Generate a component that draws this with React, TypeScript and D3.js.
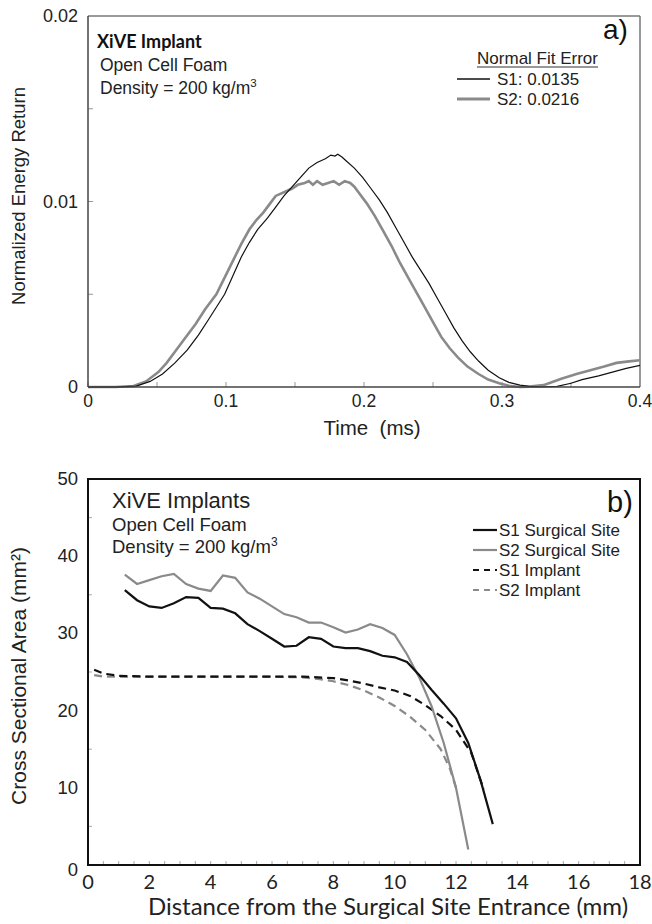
import * as d3 from "d3";
import React, { useRef, useEffect } from "react";

// panel a) normalized energy return vs time
const timeS1 = [0, 0.02, 0.035, 0.045, 0.054, 0.063, 0.072, 0.08, 0.087, 0.093, 0.099, 0.105, 0.111, 0.117, 0.123, 0.13, 0.136, 0.142, 0.148, 0.154, 0.16, 0.166, 0.172, 0.176, 0.179, 0.181, 0.184, 0.187, 0.193, 0.199, 0.205, 0.211, 0.217, 0.223, 0.229, 0.235, 0.241, 0.247, 0.253, 0.259, 0.265, 0.271, 0.277, 0.283, 0.29, 0.298, 0.305, 0.313, 0.32, 0.328, 0.34, 0.35, 0.358, 0.37, 0.38, 0.39, 0.4];
const energyS1 = [0, 0, 0.00005, 0.0003, 0.0007, 0.0013, 0.002, 0.0028, 0.0036, 0.0043, 0.005, 0.006, 0.007, 0.0078, 0.0085, 0.0091, 0.0097, 0.0103, 0.0108, 0.0113, 0.0118, 0.0121, 0.0123, 0.0125, 0.01245, 0.01255, 0.0124, 0.0122, 0.0118, 0.0113, 0.0107, 0.0101, 0.0094, 0.0086, 0.0078, 0.007, 0.0063, 0.0056, 0.0048, 0.004, 0.0032, 0.0025, 0.0019, 0.0014, 0.0009, 0.0005, 0.00025, 0.0001, 0.00003, 0, 0.00003, 0.0002, 0.0004, 0.0006, 0.0008, 0.001, 0.00117];

const timeS2 = [0, 0.02, 0.033, 0.042, 0.051, 0.057, 0.063, 0.07, 0.078, 0.085, 0.093, 0.099, 0.105, 0.111, 0.117, 0.122, 0.127, 0.132, 0.136, 0.142, 0.148, 0.152, 0.157, 0.16, 0.163, 0.166, 0.17, 0.174, 0.178, 0.182, 0.186, 0.19, 0.193, 0.196, 0.202, 0.208, 0.214, 0.22, 0.226, 0.232, 0.238, 0.244, 0.25, 0.256, 0.262, 0.268, 0.275, 0.283, 0.29, 0.298, 0.305, 0.313, 0.32, 0.33, 0.343, 0.354, 0.364, 0.374, 0.383, 0.392, 0.4];
const energyS2 = [0, 0, 0.00005, 0.0003, 0.0008, 0.0013, 0.0019, 0.0026, 0.0034, 0.0042, 0.005, 0.0059, 0.0068, 0.0077, 0.0085, 0.009, 0.0094, 0.0099, 0.0103, 0.0105, 0.0107, 0.0109, 0.011, 0.0111, 0.0109, 0.0111, 0.0109, 0.011, 0.0111, 0.0109, 0.0111, 0.011, 0.0108, 0.0105, 0.0099, 0.0092, 0.0084, 0.0076, 0.0067, 0.0059, 0.0051, 0.0043, 0.0035, 0.0027, 0.0021, 0.0016, 0.0011, 0.0007, 0.0004, 0.0002, 0.00007, 0, 0.00002, 0.0001, 0.00045, 0.0007, 0.0009, 0.0011, 0.0013, 0.00138, 0.00144];

// panel b) cross sectional area vs distance
const siteDist = [1.2, 1.6, 2.0, 2.4, 2.8, 3.2, 3.6, 4.0, 4.4, 4.8, 5.2, 5.6, 6.0, 6.4, 6.8, 7.2, 7.6, 8.0, 8.4, 8.8, 9.2, 9.6, 10.0, 10.4, 10.8, 11.2, 11.6, 12.0, 12.4, 12.8, 13.2];
const siteS1 = [35.6, 34.3, 33.5, 33.3, 33.9, 34.7, 34.6, 33.3, 33.2, 32.6, 31.2, 30.3, 29.3, 28.3, 28.4, 29.5, 29.3, 28.3, 28.1, 28.1, 27.7, 27.1, 26.9, 26.3, 24.6, 22.7, 20.9, 19.0, 15.8, 11.0, 5.3];
const siteDistS2 = [1.2, 1.6, 2.0, 2.4, 2.8, 3.2, 3.6, 4.0, 4.4, 4.8, 5.2, 5.6, 6.0, 6.4, 6.8, 7.2, 7.6, 8.0, 8.4, 8.8, 9.2, 9.6, 10.0, 10.4, 10.8, 11.2, 11.6, 12.0, 12.4];
const siteS2 = [37.6, 36.4, 36.9, 37.4, 37.7, 36.4, 35.8, 35.5, 37.5, 37.2, 35.3, 34.5, 33.5, 32.5, 32.1, 31.4, 31.4, 30.8, 30.1, 30.5, 31.2, 30.7, 29.8, 27.3, 24.3, 20.6, 15.8, 10.0, 2.0];
const implantDist = [0.2, 0.5, 1.0, 2.0, 3.0, 4.0, 5.0, 6.0, 7.0, 7.5, 8.0, 8.5, 9.0, 9.5, 10.0, 10.5, 11.0, 11.5, 12.0, 12.5, 12.9];
const implantS1 = [25.3, 24.8, 24.5, 24.4, 24.4, 24.4, 24.4, 24.4, 24.4, 24.3, 24.2, 23.9, 23.5, 23.0, 22.6, 21.9, 20.7, 19.3, 17.5, 14.5, 9.8];
const implantDistS2 = [0.2, 0.5, 1.0, 2.0, 3.0, 4.0, 5.0, 6.0, 7.0, 7.5, 8.0, 8.5, 9.0, 9.5, 10.0, 10.5, 11.0, 11.5, 11.8, 12.0];
const implantS2 = [24.6, 24.4, 24.4, 24.4, 24.4, 24.4, 24.4, 24.4, 24.3, 24.1, 23.8, 23.3, 22.6, 21.7, 20.6, 19.2, 17.5, 15.0, 12.5, 10.0];

const timeTicks = [0, 0.1, 0.2, 0.3, 0.4];
const energyTicks = [0, 0.01, 0.02];
const distTicks = [0, 2, 4, 6, 8, 10, 12, 14, 16, 18];
const areaTicks = [0, 10, 20, 30, 40, 50];

const ARIAL = "'Liberation Sans', Arial, sans-serif";
const CAL = "Lato, 'Open Sans', sans-serif";
const GRAY = "#8a8a8a";

const App = () => {
  const ref = useRef<SVGSVGElement>(null);

  useEffect(() => {
    if (!ref.current) return;
    const svg = d3.select(ref.current);
    svg.selectAll("*").remove();

    // ---------- panel a ----------
    const xa = d3.scaleLinear().domain([0, 0.4]).range([88, 640]);
    const ya = d3.scaleLinear().domain([0, 0.02]).range([387, 16]);
    const ga = svg.append("g");

    // box
    ga.append("line").attr("x1", 88).attr("x2", 640).attr("y1", 16).attr("y2", 16).attr("stroke", "#777").attr("stroke-width", 1.5);
    ga.append("line").attr("x1", 640).attr("x2", 640).attr("y1", 16).attr("y2", 387).attr("stroke", "#777").attr("stroke-width", 1.5);

    // inner ticks
    d3.range(0, 0.4001, 0.05).forEach((t) => {
      ga.append("line").attr("x1", xa(t)).attr("x2", xa(t)).attr("y1", 387).attr("y2", 382).attr("stroke", "#999").attr("stroke-width", 1);
    });
    d3.range(0, 0.02001, 0.005).forEach((t) => {
      ga.append("line").attr("x1", 88).attr("x2", 93).attr("y1", ya(t)).attr("y2", ya(t)).attr("stroke", "#999").attr("stroke-width", 1);
    });

    const lineA = d3.line<[number, number]>().x((d) => xa(d[0])).y((d) => ya(d[1]));
    ga.append("path")
      .datum(timeS2.map((t, i) => [t, energyS2[i]] as [number, number]))
      .attr("fill", "none").attr("stroke", GRAY).attr("stroke-width", 2.6).attr("d", lineA);
    ga.append("path")
      .datum(timeS1.map((t, i) => [t, energyS1[i]] as [number, number]))
      .attr("fill", "none").attr("stroke", "#111").attr("stroke-width", 1.2).attr("d", lineA);

    ga.append("line").attr("x1", 88).attr("x2", 88).attr("y1", 16).attr("y2", 387).attr("stroke", "#444").attr("stroke-width", 1.5);
    ga.append("line").attr("x1", 88).attr("x2", 640).attr("y1", 387).attr("y2", 387).attr("stroke", "#444").attr("stroke-width", 1.5);

    ga.selectAll(".xt").data(timeTicks).enter().append("text")
      .attr("x", (d) => xa(d)).attr("y", 407).attr("text-anchor", "middle")
      .style("font-family", ARIAL).style("font-size", "17.5px").attr("fill", "#222")
      .text((d) => String(d));
    ga.selectAll(".yt").data(energyTicks).enter().append("text")
      .attr("x", 78).attr("y", (d) => ya(d) + 6).attr("text-anchor", "end")
      .style("font-family", ARIAL).style("font-size", "18px").attr("fill", "#222")
      .text((d) => String(d));

    ga.append("text").attr("x", 372).attr("y", 435).attr("text-anchor", "middle")
      .style("font-family", ARIAL).style("font-size", "20.5px").attr("fill", "#222")
      .style("white-space", "pre").text("Time  (ms)");
    ga.append("text").attr("transform", "translate(25,196) rotate(-90)").attr("text-anchor", "middle")
      .style("font-family", ARIAL).style("font-size", "18.5px").attr("fill", "#222")
      .text("Normalized Energy Return");

    ga.append("text").attr("x", 97).attr("y", 48)
      .style("font-family", CAL).style("font-size", "18px").style("font-weight", "bold").attr("fill", "#111")
      .text("XiVE Implant");
    ga.append("text").attr("x", 100).attr("y", 71)
      .style("font-family", ARIAL).style("font-size", "17.5px").attr("fill", "#222")
      .text("Open Cell Foam");
    const dens = ga.append("text").attr("x", 100).attr("y", 94)
      .style("font-family", ARIAL).style("font-size", "17.5px").attr("fill", "#222");
    dens.append("tspan").text("Density = 200 kg/m");
    dens.append("tspan").attr("dy", -7).style("font-size", "11.5px").text("3");

    ga.append("text").attr("x", 603).attr("y", 39)
      .style("font-family", ARIAL).style("font-size", "28px").attr("fill", "#111").text("a)");

    ga.append("text").attr("x", 598).attr("y", 64).attr("text-anchor", "end")
      .style("font-family", ARIAL).style("font-size", "17px").attr("fill", "#222").text("Normal Fit Error");
    ga.append("line").attr("x1", 477).attr("x2", 598).attr("y1", 67).attr("y2", 67).attr("stroke", "#333").attr("stroke-width", 1);
    ga.append("line").attr("x1", 457).attr("x2", 490).attr("y1", 79).attr("y2", 79).attr("stroke", "#111").attr("stroke-width", 1.5);
    ga.append("line").attr("x1", 457).attr("x2", 490).attr("y1", 99).attr("y2", 99).attr("stroke", GRAY).attr("stroke-width", 3);
    ga.append("text").attr("x", 497).attr("y", 85)
      .style("font-family", ARIAL).style("font-size", "17px").attr("fill", "#222").text("S1: 0.0135");
    ga.append("text").attr("x", 497).attr("y", 105)
      .style("font-family", ARIAL).style("font-size", "17px").attr("fill", "#222").text("S2: 0.0216");

    // ---------- panel b ----------
    const xb = d3.scaleLinear().domain([0, 18]).range([88, 640]);
    const yb = d3.scaleLinear().domain([0, 50]).range([865, 479]);
    const gb = svg.append("g");

    d3.range(0, 18.01, 0.5).forEach((t) => {
      gb.append("line").attr("x1", xb(t)).attr("x2", xb(t)).attr("y1", 865).attr("y2", 861).attr("stroke", "#aaa").attr("stroke-width", 1);
    });
    d3.range(5, 50, 10).forEach((t) => {
      gb.append("line").attr("x1", 88).attr("x2", 92).attr("y1", yb(t)).attr("y2", yb(t)).attr("stroke", "#aaa").attr("stroke-width", 1);
    });

    const lineB = d3.line<[number, number]>().x((d) => xb(d[0])).y((d) => yb(d[1]));
    const series = [
      { xs: implantDistS2, ys: implantS2, color: GRAY, dash: "8,5" },
      { xs: implantDist, ys: implantS1, color: "#111", dash: "8,5" },
      { xs: siteDistS2, ys: siteS2, color: GRAY, dash: null },
      { xs: siteDist, ys: siteS1, color: "#111", dash: null },
    ];
    series.forEach((s) => {
      gb.append("path")
        .datum(s.xs.map((x, i) => [x, s.ys[i]] as [number, number]))
        .attr("fill", "none").attr("stroke", s.color).attr("stroke-width", 2.2)
        .attr("stroke-dasharray", s.dash).attr("d", lineB);
    });

    gb.append("rect").attr("x", 88).attr("y", 479).attr("width", 552).attr("height", 386)
      .attr("fill", "none").attr("stroke", "#111").attr("stroke-width", 2);

    gb.selectAll(".xt").data(distTicks).enter().append("text")
      .attr("x", (d) => xb(d)).attr("y", 889).attr("text-anchor", "middle")
      .style("font-family", CAL).style("font-size", "20px").attr("fill", "#222")
      .text((d) => String(d));
    gb.selectAll(".yt").data(areaTicks).enter().append("text")
      .attr("x", 78).attr("y", (d) => yb(d) + (d === 0 ? 11 : 6)).attr("text-anchor", "end")
      .style("font-family", ARIAL).style("font-size", "18.5px").attr("fill", "#222")
      .text((d) => String(d));

    gb.append("text").attr("x", 388).attr("y", 915).attr("text-anchor", "middle")
      .style("font-family", CAL).style("font-size", "24px").attr("fill", "#222")
      .text("Distance from the Surgical Site Entrance (mm)");
    gb.append("text").attr("transform", "translate(26,676) rotate(-90)").attr("text-anchor", "middle")
      .style("font-family", ARIAL).style("font-size", "21px").attr("fill", "#222")
      .text("Cross Sectional Area (mm²)");

    gb.append("text").attr("x", 112).attr("y", 508)
      .style("font-family", ARIAL).style("font-size", "22px").attr("fill", "#222").text("XiVE Implants");
    gb.append("text").attr("x", 112).attr("y", 531)
      .style("font-family", ARIAL).style("font-size", "18.5px").attr("fill", "#222").text("Open Cell Foam");
    const densB = gb.append("text").attr("x", 112).attr("y", 553)
      .style("font-family", ARIAL).style("font-size", "18.5px").attr("fill", "#222");
    densB.append("tspan").text("Density = 200 kg/m");
    densB.append("tspan").attr("dy", -7).style("font-size", "12px").text("3");

    gb.append("text").attr("x", 607).attr("y", 512)
      .style("font-family", ARIAL).style("font-size", "29px").attr("fill", "#111").text("b)");

    const legend = [
      { label: "S1 Surgical Site", color: "#111", dash: null },
      { label: "S2 Surgical Site", color: GRAY, dash: null },
      { label: "S1 Implant", color: "#111", dash: "6,5" },
      { label: "S2 Implant", color: GRAY, dash: "6,5" },
    ];
    legend.forEach((l, i) => {
      const y = 530 + i * 20;
      gb.append("line").attr("x1", 473).attr("x2", 497).attr("y1", y).attr("y2", y)
        .attr("stroke", l.color).attr("stroke-width", 2.2).attr("stroke-dasharray", l.dash);
      gb.append("text").attr("x", 499).attr("y", y + 6)
        .style("font-family", ARIAL).style("font-size", "17px").attr("fill", "#222").text(l.label);
    });
  }, []);

  return (
    <svg
      ref={ref}
      width={652}
      height={924}
      style={{ position: "absolute", left: 0, top: 0, background: "#fff" }}
    />
  );
};

export default App;
